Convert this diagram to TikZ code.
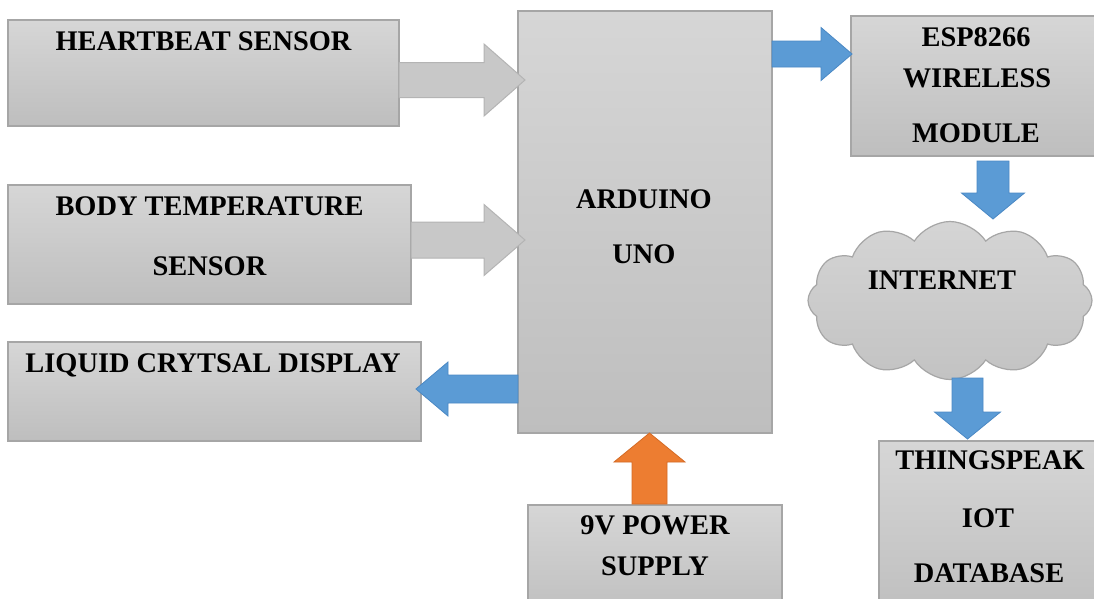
\documentclass[tikz,border=0pt]{standalone}
\usepackage{fontspec}
\setmainfont{Liberation Serif}
\usetikzlibrary{calc,shapes.symbols}
\definecolor{boxline}{HTML}{A6A6A6}
\definecolor{boxtop}{HTML}{D6D6D6}
\definecolor{boxbot}{HTML}{BEBEBE}
\definecolor{garrow}{HTML}{C8C8C8}
\definecolor{garrowline}{HTML}{B4B4B4}
\definecolor{barrow}{HTML}{5B9BD5}
\definecolor{barrowline}{HTML}{4A88C4}
\definecolor{oarrow}{HTML}{ED7D31}
\definecolor{oarrowline}{HTML}{D46B25}
\definecolor{cloudfill}{HTML}{CDCDCD}
% block arrow: style, start, tip, half shaft, half head, head length
\newcommand\blockarrow[6]{%
  \coordinate (bah) at ($(#3)!#6!(#2)$);
  \draw[#1] ($(#2)!#4!90:(#3)$) -- ($(bah)!#4!90:(#3)$) -- ($(bah)!#5!90:(#3)$)
    -- (#3) -- ($(bah)!#5!-90:(#3)$) -- ($(bah)!#4!-90:(#3)$) -- ($(#2)!#4!-90:(#3)$) -- cycle;
}
\begin{document}
\begin{tikzpicture}[x=1pt,y=-1pt,
  blk/.style={draw=boxline,line width=1.2pt,top color=boxtop,bottom color=boxbot,inner sep=0pt,outer sep=0pt},
  lbl/.style={font=\bfseries\fontsize{28.4}{34}\selectfont,text height=18.8pt,text depth=0pt,inner sep=0pt},
  grayarrow/.style={fill=garrow,draw=garrowline,line width=1pt,line join=miter},
  bluearrow/.style={fill=barrow,draw=barrowline,line width=0.8pt,line join=miter},
  orangearrow/.style={fill=oarrow,draw=oarrowline,line width=0.8pt,line join=miter},
  cloudnode/.style={cloud,cloud puffs=12,cloud puff arc=115,aspect=1.8,cloud ignores aspect,
    draw=boxline,line width=1.2pt,top color=cloudfill!85!white,bottom color=cloudfill!95!black,inner sep=0pt,outer sep=0pt}]
\useasboundingbox (0,0) rectangle (1094,598);
\fill[white] (0,0) rectangle (1094,598);
% boxes
\node[blk,minimum width=391pt,minimum height=106pt] (hb) at (203.5,73) {};
\node[blk,minimum width=403pt,minimum height=119pt] (bt) at (209.5,244.5) {};
\node[blk,minimum width=413pt,minimum height=99pt] (lcd) at (214.5,391.5) {};
\node[blk,minimum width=254pt,minimum height=422pt] (ard) at (645,222) {};
\node[blk,minimum width=252pt,minimum height=140pt] (esp) at (977,86) {};
\node[blk,minimum width=254pt,minimum height=115pt] (pwr) at (655,562.5) {};
\node[blk,minimum width=221pt,minimum height=179pt] (ts) at (989.5,530.5) {};
\node[cloudnode,minimum width=284pt,minimum height=158pt] (cl) at (950,300.5) {};
% arrows
\coordinate (a1s) at ($(hb.east)+(0,7)$);
\coordinate (a1e) at ($(ard.west |- a1s)+(7,0)$);
\blockarrow{grayarrow}{a1s}{a1e}{17.5pt}{36pt}{41pt}
\coordinate (a2s) at ($(bt.east)+(0,-4.5)$);
\coordinate (a2e) at ($(ard.west |- a2s)+(7,0)$);
\blockarrow{grayarrow}{a2s}{a2e}{18pt}{35.5pt}{41pt}
\coordinate (a3s) at ($(ard.west)+(0,167)$);
\coordinate (a3e) at ($(lcd.east |- a3s)+(-5,0)$);
\blockarrow{bluearrow}{a3s}{a3e}{14pt}{27pt}{32pt}
\coordinate (a4s) at ($(ard.north east)+(0,43)$);
\coordinate (a4e) at ($(esp.west |- a4s)+(1,0)$);
\blockarrow{bluearrow}{a4s}{a4e}{13pt}{26.5pt}{31pt}
\coordinate (a5s) at ($(esp.south)+(16,5)$);
\coordinate (a5e) at ($(esp.south)+(16,63)$);
\blockarrow{bluearrow}{a5s}{a5e}{16pt}{31.5pt}{26pt}
\coordinate (a6s) at ($(ts.north)+(-22,-63)$);
\coordinate (a6e) at ($(ts.north)+(-22,-2)$);
\blockarrow{bluearrow}{a6s}{a6e}{15.5pt}{33pt}{27pt}
\coordinate (a7s) at ($(pwr.north)+(-5.5,-1)$);
\coordinate (a7e) at (a7s |- ard.south);
\blockarrow{orangearrow}{a7s}{a7e}{17.5pt}{35.5pt}{29pt}
% labels
\node[lbl] (t1) at (203.5,41) {HEARTBEAT SENSOR};
\node[lbl] (t2) at (209.5,206) {BODY TEMPERATURE};
\node[lbl] (t3) at (209.5,266) {SENSOR};
\node[lbl] (t4) at (213,363) {LIQUID CRYTSAL DISPLAY};
\node[lbl] (t5) at (644,199) {ARDUINO};
\node[lbl] (t6) at (644,254) {UNO};
\node[lbl] (t7) at (976,37) {ESP8266};
\node[lbl] (t8) at (977,78) {WIRELESS};
\node[lbl] (t9) at (976,133) {MODULE};
\node[lbl] (t10) at (942,280) {INTERNET};
\node[lbl] (t11) at (655,525) {9V POWER};
\node[lbl] (t12) at (655,566) {SUPPLY};
\node[lbl] (t13) at (990,460) {THINGSPEAK};
\node[lbl] (t14) at (988,518) {IOT};
\node[lbl] (t15) at (989,573) {DATABASE};
\end{tikzpicture}
\end{document}
